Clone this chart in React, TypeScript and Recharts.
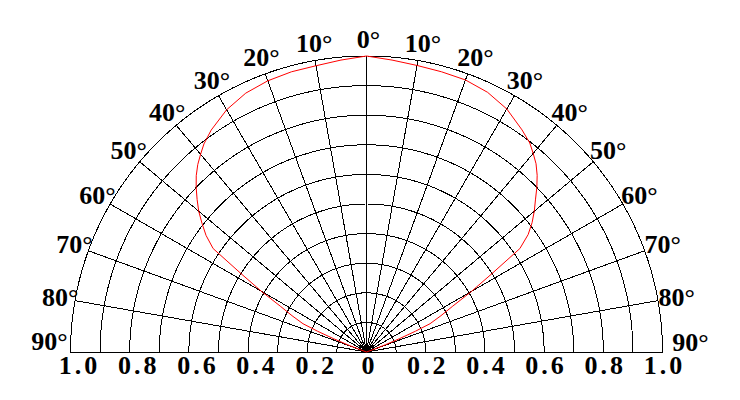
import React from 'react';
import { RadarChart, Radar, PolarGrid, PolarAngleAxis, PolarRadiusAxis } from 'recharts';

// Emission angle (degrees) and relative intensity
const angles = [
  -90, -85, -80, -75, -72, -70, -69, -68, -67, -66, -64, -62, -60, -58, -56, -54, -52, -50,
  -48, -46, -44, -42, -40, -38, -35, -30, -25, -20, -15, -10, -5, 0,
  5, 10, 15, 20, 25, 30, 35, 38, 40, 42, 44, 46, 48, 50, 52, 54, 56, 58, 60, 62, 64, 66,
  67, 68, 69, 70, 72, 75, 80, 85, 90,
];
const intensity = [
  0, 0, 0, 0, 0.0, 0.03, 0.07, 0.12, 0.18, 0.235, 0.28, 0.33, 0.41, 0.5, 0.625, 0.67, 0.705, 0.74,
  0.77, 0.8, 0.828, 0.852, 0.872, 0.892, 0.915, 0.945, 0.965, 0.975, 0.98, 0.982, 0.99, 1.0,
  0.99, 0.983, 0.98, 0.978, 0.968, 0.948, 0.916, 0.896, 0.876, 0.856, 0.83, 0.8, 0.768, 0.74, 0.71, 0.675, 0.625, 0.5, 0.41, 0.33, 0.28, 0.235,
  0.18, 0.12, 0.07, 0.03, 0.0, 0, 0, 0, 0,
];

const angleTicks = [-90, -80, -70, -60, -50, -40, -30, -20, -10, 0, 10, 20, 30, 40, 50, 60, 70, 80, 90];
const radiusTicks = [0, 0.1, 0.2, 0.3, 0.4, 0.5, 0.6, 0.7, 0.8, 0.9, 1.0];
const labelledRadii = [0, 0.2, 0.4, 0.6, 0.8, 1.0];

const data = angles.map((a, i) => ({ angle: a, value: intensity[i] }));

const CX = 366.5;
const CY = 352;
const R = 296;
const FONT = '"Liberation Serif", "Times New Roman", serif';
const FS = 26;

const AngleTick = (props: any) => {
  const { x, y, payload } = props;
  const raw = Math.round(payload.value);
  const v = Math.abs(raw);
  let dx = 2;
  let dy = 0;
  if (raw === -90) { dx = -4; dy = -11; }
  if (raw === 90) { dx = 11; dy = -10; }
  return (
    <text x={x} y={y} dx={dx} dy={dy} textAnchor="middle" dominantBaseline="central"
      fontFamily={FONT} fontSize={FS} fontWeight="bold" fill="#000">
      {`${v}°`}
    </text>
  );
};

const RadiusTick = (props: any) => {
  const { x, y, payload } = props;
  const v = Number(payload.value);
  const show = labelledRadii.some((r) => Math.abs(r - v) < 1e-6);
  if (!show) return <g />;
  const label = v === 0 ? '0' : v.toFixed(1);
  const common = {
    fontFamily: FONT, fontSize: FS, fontWeight: 'bold' as const, fill: '#000',
    letterSpacing: v === 0 ? 0 : 3, textAnchor: 'middle' as const,
  };
  return (
    <g>
      <text x={x} y={y} dx={v === 0 ? 1.5 : 2} dy={22} {...common}>{label}</text>
      {v > 0 && (
        <text x={2 * CX - x} y={y} dx={9} dy={22} {...common}>{label}</text>
      )}
    </g>
  );
};

export default function App() {
  return (
    <div style={{ position: 'absolute', left: 0, top: 0, width: 740, height: 400, background: '#fff' }}>
      <style>{`.recharts-polar-grid line, .recharts-polar-grid path { shape-rendering: crispEdges; }`}</style>
      <RadarChart
        width={740}
        height={400}
        data={data}
        cx={CX}
        cy={CY}
        innerRadius={0}
        outerRadius={R}
        startAngle={180}
        endAngle={0}
        margin={{ top: 0, right: 0, bottom: 0, left: 0 }}
      >
        <PolarAngleAxis
          angleAxisId="fine"
          dataKey="angle"
          type="number"
          domain={[-90, 90]}
          tickCount={181}
          allowDecimals={false}
          tick={false}
          tickLine={false}
          axisLine={false}
        />
        <PolarAngleAxis
          dataKey="angle"
          type="number"
          domain={[-90, 90]}
          ticks={angleTicks as any}
          tickCount={19}
          tick={<AngleTick />}
          tickLine={false}
          tickSize={17}
          axisLine={false}
        />
        <PolarRadiusAxis
          angle={0}
          type="number"
          domain={[0, 1]}
          ticks={radiusTicks as any}
          tickCount={11}
          allowDecimals={true}
          axisLine={false}
          tick={<RadiusTick />}
        />
        <PolarGrid angleAxisId="fine" gridType="polygon" radialLines={false} stroke="#000" strokeWidth={1} />
        <PolarGrid gridType="polygon" polarRadius={[]} stroke="#000" strokeWidth={1} />
        <Radar
          dataKey="value"
          stroke="#ff0000"
          strokeWidth={1}
          fill="none"
          fillOpacity={0}
          dot={false}
          isAnimationActive={false}
        />
      </RadarChart>
    </div>
  );
}
